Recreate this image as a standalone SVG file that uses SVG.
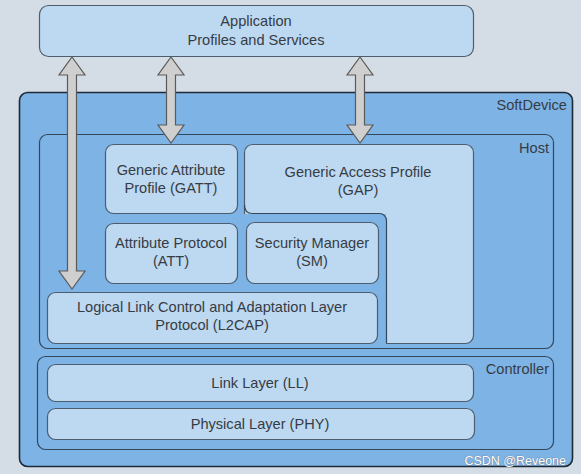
<svg xmlns="http://www.w3.org/2000/svg" width="581" height="474" viewBox="0 0 581 474">
<style>
text{font-family:"Liberation Sans",Arial,sans-serif;font-size:14.6px;fill:#363c44;text-anchor:middle}
.lbl{text-anchor:end}
.box{fill:#bdd8f1;stroke:#4d5d6d;stroke-width:1.2}
.area{fill:#7eb3e6;stroke:#34475a;stroke-width:1.2}
.arrow{fill:#cfcfcf;stroke:#5a5a5a;stroke-width:1.2;stroke-linejoin:miter}
</style>
<rect width="581" height="474" fill="#d4dde6"/>
<g id="app"><rect class="box" x="39.5" y="5.5" width="434" height="51" rx="9" stroke="#6f7f8f"/><text x="256" y="26">Application</text><text x="256" y="45">Profiles and Services</text></g>
<g id="softdevice"><rect x="19.5" y="92.5" width="553" height="374" rx="8" fill="#7eb3e6" stroke="#1e2a36" stroke-width="1.6"/><text class="lbl" x="567" y="110">SoftDevice</text></g>
<g id="host"><rect class="area" x="39.5" y="134.5" width="514" height="214" rx="8"/><text class="lbl" x="549" y="153">Host</text></g>
<g id="gatt"><rect class="box" x="105.5" y="144.5" width="132" height="69" rx="8"/><text x="171" y="175">Generic Attribute</text><text x="171" y="193">Profile (GATT)</text></g>
<g id="gap"><rect class="box" x="244.5" y="144.5" width="229" height="199" rx="8"/><text x="358" y="177">Generic Access Profile</text><text x="358" y="195">(GAP)</text>
<rect x="239" y="214" width="147" height="132" fill="#7eb3e6"/><path d="M244.5,205 Q244.5,213.5 252.5,213.5 H379.5 a7,7 0 0 1 7,7 V343" fill="none" stroke="#34475a" stroke-width="1.2"/></g>
<g id="att"><rect class="box" x="105.5" y="223.5" width="132" height="60" rx="8"/><text x="171" y="248">Attribute Protocol</text><text x="171" y="266">(ATT)</text></g>
<g id="sm"><rect class="box" x="246.5" y="222.5" width="132" height="61" rx="8"/><text x="312" y="248">Security Manager</text><text x="312" y="266">(SM)</text></g>
<g id="l2cap"><rect class="box" x="47.5" y="292.5" width="330" height="51" rx="8"/><text x="212" y="312">Logical Link Control and Adaptation Layer</text><text x="212" y="330">Protocol (L2CAP)</text></g>
<g id="controller"><rect class="area" x="37.5" y="356.5" width="516" height="93" rx="8"/><text class="lbl" x="549" y="374">Controller</text></g>
<g id="ll"><rect class="box" x="47.5" y="364.5" width="426" height="37" rx="8"/><text x="260" y="388">Link Layer (LL)</text></g>
<g id="phy"><rect class="box" x="47.5" y="408.5" width="427" height="31" rx="8"/><text x="260" y="429">Physical Layer (PHY)</text></g>
<g id="connectors">
<polygon class="arrow" points="72,57 85,75 76.5,75 76.5,271 85,271 72,289 59,271 67.5,271 67.5,75 59,75"/>
<polygon class="arrow" points="171,57 184,75 175.5,75 175.5,125 184,125 171,143 158,125 166.5,125 166.5,75 158,75"/>
<polygon class="arrow" points="360,57 373,75 364.5,75 364.5,125 373,125 360,143 347,125 355.5,125 355.5,75 347,75"/>
</g>
<text class="lbl" x="566" y="465" style="font-size:12.5px;fill:#ffffff;stroke:#6a7480;stroke-width:0.6;paint-order:stroke">CSDN @Reveone</text>
</svg>
